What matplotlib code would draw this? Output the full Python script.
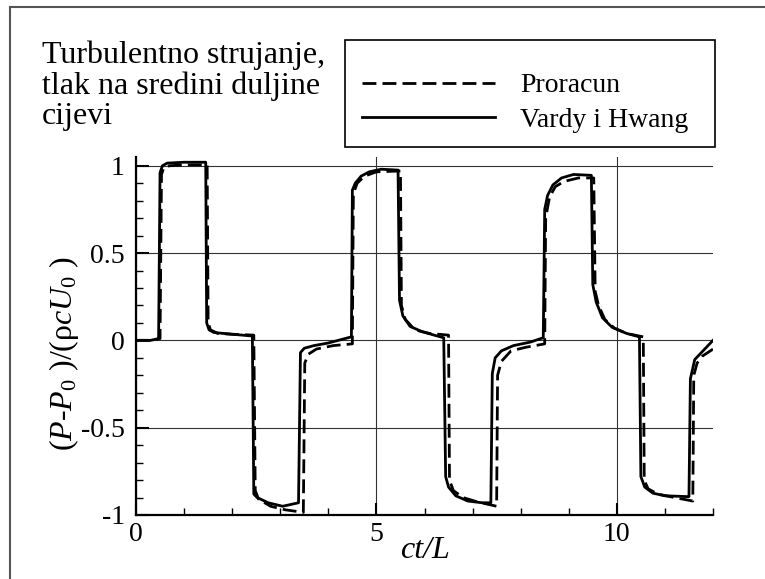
import matplotlib
matplotlib.use("Agg")
import matplotlib.pyplot as plt
from matplotlib.patches import Rectangle
from matplotlib.ticker import MultipleLocator

plt.rcParams['font.family'] = ['Liberation Serif', 'DejaVu Serif']
plt.rcParams['mathtext.fontset'] = 'custom'
plt.rcParams['mathtext.rm'] = 'Liberation Serif'
plt.rcParams['mathtext.it'] = 'Liberation Serif:italic'
plt.rcParams['axes.unicode_minus'] = False

# proracun (numericki rezultat)
t_calc = [0, 0.3, 0.5, 0.53, 0.58, 0.7, 1.0, 1.48, 1.5, 1.55, 1.7, 2.0, 2.45,
          2.48, 2.55, 2.8, 3.1, 3.48, 3.51, 3.58, 3.75, 4.1, 4.5,
          4.52, 4.6, 4.75, 5.0, 5.5, 5.52, 5.6, 5.8, 6.1, 6.5,
          6.52, 6.6, 6.8, 7.1, 7.5, 7.52, 7.6, 7.8, 8.1, 8.5,
          8.52, 8.6, 8.72, 8.9, 9.2, 9.52, 9.55, 9.62, 9.75, 9.95, 10.2, 10.55,
          10.57, 10.65, 10.85, 11.2, 11.58, 11.6, 11.67, 11.78, 12.0]
p_calc = [0.0, 0.0, 0.01, 0.95, 0.99, 1.0, 1.005, 1.005, 0.1, 0.06, 0.04, 0.035, 0.03,
          -0.86, -0.91, -0.95, -0.97, -0.985, -0.13, -0.08, -0.05, -0.03, -0.02,
          0.84, 0.9, 0.94, 0.965, 0.97, 0.2, 0.12, 0.06, 0.04, 0.03,
          -0.8, -0.86, -0.9, -0.925, -0.95, -0.2, -0.12, -0.06, -0.04, -0.02,
          0.7, 0.82, 0.88, 0.91, 0.93, 0.93, 0.28, 0.2, 0.12, 0.07, 0.04, 0.02,
          -0.8, -0.85, -0.88, -0.9, -0.92, -0.2, -0.13, -0.09, -0.05]

# Vardy i Hwang
t_vh = [0, 0.3, 0.47, 0.5, 0.55, 0.65, 1.0, 1.45, 1.47, 1.52, 1.62, 2.0, 2.42,
        2.45, 2.52, 2.75, 3.05, 3.38, 3.42, 3.5, 3.7, 4.0, 4.48,
        4.5, 4.56, 4.68, 4.85, 5.1, 5.45, 5.48, 5.55, 5.7, 5.95, 6.2, 6.4,
        6.44, 6.5, 6.65, 6.9, 7.2, 7.38, 7.41, 7.47, 7.6, 7.85, 8.2, 8.47,
        8.5, 8.56, 8.67, 8.85, 9.1, 9.47, 9.5, 9.57, 9.7, 9.9, 10.2, 10.47,
        10.5, 10.58, 10.75, 11.0, 11.5, 11.53, 11.62, 12.0]
p_vh = [0.0, 0.0, 0.01, 0.96, 1.0, 1.015, 1.02, 1.02, 0.1, 0.06, 0.045, 0.035, 0.025,
        -0.88, -0.9, -0.93, -0.95, -0.93, -0.07, -0.045, -0.03, -0.015, 0.02,
        0.86, 0.9, 0.94, 0.965, 0.98, 0.975, 0.23, 0.14, 0.08, 0.05, 0.03, 0.015,
        -0.78, -0.84, -0.89, -0.92, -0.93, -0.93, -0.19, -0.1, -0.06, -0.03, -0.01, 0.015,
        0.75, 0.83, 0.89, 0.93, 0.95, 0.945, 0.32, 0.22, 0.13, 0.075, 0.04, 0.02,
        -0.78, -0.84, -0.875, -0.89, -0.895, -0.22, -0.11, 0.0]

yticks = [-1, -0.5, 0, 0.5, 1]
ytick_labels = ['-1', '-0.5', '0', '0.5', '1']
xticks = [0, 5, 10]
xtick_labels = ['0', '5', '10']

W, H = 765, 579
fig = plt.figure(figsize=(W / 100, H / 100), dpi=100)
ax = fig.add_axes([136/W, 1 - 515/H, 577/W, 358/H])

ax.plot(t_calc, p_calc, color='black', lw=2, ls=(0, (5, 2.2)), label='Proracun')
ax.plot(t_vh, p_vh, color='black', lw=2, label='Vardy i Hwang')

ax.set_xlim(0, 12)
ax.set_ylim(-1, 1.05)
ax.set_xticks(xticks)
ax.set_xticklabels(xtick_labels)
ax.set_yticks(yticks)
ax.set_yticklabels(ytick_labels)
ax.xaxis.set_minor_locator(MultipleLocator(1))
ax.yaxis.set_minor_locator(MultipleLocator(0.1))
ax.tick_params(which='both', direction='in', labelsize=20, top=False, right=False)
ax.tick_params(which='major', length=9, width=1.5)
ax.tick_params(which='minor', length=5, width=1)
ax.tick_params(axis='y', pad=8)
ax.tick_params(axis='x', pad=5)

ax.grid(True, which='major', color='#333333', lw=0.8)
ax.set_axisbelow(True)
for side in ('top', 'right'):
    ax.spines[side].set_visible(False)
for side in ('left', 'bottom'):
    ax.spines[side].set_linewidth(1.6)

ax.set_xlabel('ct/L', fontsize=23, style='italic')
ax.xaxis.set_label_coords(0.5, -0.058)
ax.set_ylabel(r'($P$-$P_{\mathit{0}}$ )/(ρ$cU_{\mathit{0}}$ )', fontsize=23)
ax.yaxis.set_label_coords(-0.095, 0.45)

fig.text(42/W, 1 - 40/H, 'Turbulentno strujanje,\ntlak na sredini duljine\ncijevi',
         fontsize=23, va='top', ha='left', linespacing=1.07)

# legenda s posebno nacrtanim okvirom
leg = fig.legend(loc='upper left', bbox_to_anchor=(341/W, 1 - 52/H),
                 fontsize=20, frameon=False,
                 handlelength=4.8, handletextpad=0.9, labelspacing=0.32,
                 borderpad=0.75, borderaxespad=0)
fig.patches.append(Rectangle((345/W, 1 - 147/H), 370/W, 107/H, transform=fig.transFigure,
                             fill=False, edgecolor='black', lw=1.2))

# okvir oko slike
fig.patches.append(Rectangle((10/W, -0.1), 1.2, 1.1 - 7/H, transform=fig.transFigure,
                             fill=False, edgecolor='#555555', lw=1.5))

fig.savefig('out.png', dpi=100)
